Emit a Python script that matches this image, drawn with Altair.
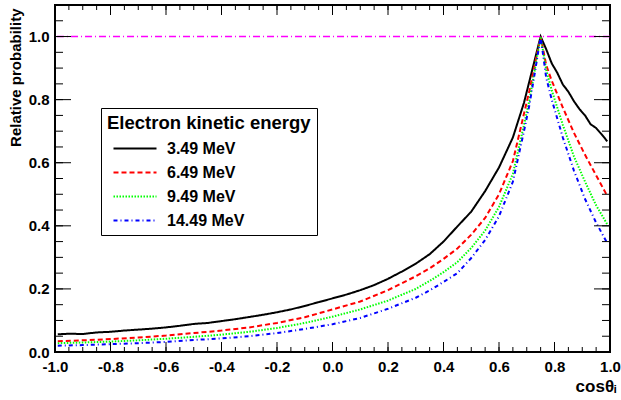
import altair as alt
import pandas as pd

# ---------------- data ----------------
series_names = ["3.49 MeV", "6.49 MeV", "9.49 MeV", "14.49 MeV"]
series_colors = ["#000000", "#ff0000", "#00ff00", "#0000ff"]
series_dash = [[1, 0], [5, 3], [1.5, 1.5], [4, 3, 1, 3]]

cos_black = [-0.99, -0.95, -0.9, -0.85, -0.8, -0.75, -0.7, -0.65, -0.6, -0.55,
             -0.5, -0.45, -0.4, -0.35, -0.3, -0.25, -0.2, -0.15, -0.1, -0.05,
             0.0, 0.05, 0.1, 0.15, 0.2, 0.25, 0.3, 0.35, 0.4, 0.45, 0.5, 0.55,
             0.6, 0.65, 0.69, 0.71, 0.73, 0.75, 0.77, 0.79, 0.81, 0.83, 0.85,
             0.87, 0.89, 0.91, 0.93, 0.95, 0.97, 0.99]
prob_black = [0.056, 0.058, 0.057, 0.062, 0.064, 0.068, 0.071, 0.074, 0.078, 0.083,
              0.089, 0.092, 0.098, 0.104, 0.111, 0.118, 0.126, 0.135, 0.146, 0.158,
              0.170, 0.182, 0.196, 0.212, 0.232, 0.255, 0.280, 0.310, 0.350, 0.398,
              0.445, 0.510, 0.585, 0.680, 0.790, 0.860, 0.930, 1.000, 0.960, 0.915,
              0.885, 0.848, 0.825, 0.795, 0.770, 0.750, 0.722, 0.710, 0.690, 0.668]

cos_other = [-0.99, -0.9, -0.8, -0.7, -0.6, -0.5, -0.4, -0.3, -0.2, -0.1, 0.0,
             0.1, 0.2, 0.3, 0.35, 0.4, 0.45, 0.5, 0.55, 0.6, 0.65, 0.69, 0.71,
             0.73, 0.75, 0.77, 0.79, 0.83, 0.87, 0.91, 0.95, 0.99]
prob_red = [0.034, 0.037, 0.041, 0.046, 0.052, 0.060, 0.068, 0.078, 0.092, 0.110,
            0.135, 0.160, 0.196, 0.240, 0.265, 0.295, 0.328, 0.372, 0.425, 0.500,
            0.605, 0.755, 0.830, 0.915, 1.000, 0.910, 0.860, 0.775, 0.695, 0.625,
            0.560, 0.495]
prob_green = [0.028, 0.030, 0.033, 0.037, 0.042, 0.048, 0.055, 0.064, 0.076, 0.092,
              0.112, 0.135, 0.163, 0.200, 0.225, 0.253, 0.285, 0.330, 0.385, 0.460,
              0.565, 0.720, 0.800, 0.900, 1.000, 0.895, 0.830, 0.720, 0.620, 0.540,
              0.465, 0.405]
prob_blue = [0.020, 0.022, 0.025, 0.028, 0.032, 0.038, 0.043, 0.050, 0.060, 0.073,
             0.088, 0.108, 0.137, 0.172, 0.195, 0.222, 0.250, 0.298, 0.355, 0.430,
             0.540, 0.700, 0.785, 0.890, 1.000, 0.870, 0.800, 0.680, 0.575, 0.485,
             0.410, 0.345]

reference_level = [1.0]

x_major = [-1.0, -0.8, -0.6, -0.4, -0.2, 0.0, 0.2, 0.4, 0.6, 0.8, 1.0]
y_major = [0.0, 0.2, 0.4, 0.6, 0.8, 1.0]
x_minor = [round(-1 + 0.05 * i, 2) for i in range(41)]
y_minor = [round(0.05 * i, 2) for i in range(23)]

# ---------------- table ----------------
rows = []
for c, p in zip(cos_black, prob_black):
    rows.append({"cos": c, "prob": p, "energy": series_names[0]})
for name, vals in zip(series_names[1:], [prob_red, prob_green, prob_blue]):
    for c, p in zip(cos_other, vals):
        rows.append({"cos": c, "prob": p, "energy": name})
df = pd.DataFrame(rows)
ref_df = pd.DataFrame({"ref": reference_level})

FONT = "Liberation Sans"
W, H = 555, 347
x_scale = alt.Scale(domain=[-1, 1], nice=False, zero=False)
y_scale = alt.Scale(domain=[0, 1.1], nice=False, zero=False)

legend = alt.Legend(
    title="Electron kinetic energy", orient="none", legendX=46, legendY=103,
    direction="vertical",
    titleFont=FONT, titleFontSize=18.5, titleFontWeight="bold", titleColor="black",
    titlePadding=8, titleLimit=0,
    labelFont=FONT, labelFontSize=16, labelFontWeight="bold", labelColor="black",
    labelOffset=24, labelLimit=0,
    symbolType="M-5,0H5", symbolSize=74, symbolStrokeWidth=2, symbolOffset=20,
    rowPadding=8, padding=6, strokeColor="black", fillColor="white",
)

lines = alt.Chart(df).mark_line(strokeWidth=2).encode(
    x=alt.X("cos:Q", scale=x_scale, axis=alt.Axis(
        values=x_major, tickSize=0, domain=False, labelFlush=False, grid=False,
        labelExpr="datum.value < 0 ? '-' + format(-datum.value, '.1f') : format(datum.value, '.1f')",
        labelFont=FONT, labelFontSize=15, labelFontWeight="bold", labelColor="black",
        labelPadding=7, title="cosθᵢ", titleFont=FONT, titleFontSize=17,
        titleFontWeight="bold", titleColor="black", titleX=561, titleY=34,
        titleAlign="right", titleBaseline="middle")),
    y=alt.Y("prob:Q", scale=y_scale, axis=alt.Axis(
        values=y_major, tickSize=0, domain=False, labelFlush=False, format=".1f",
        grid=False,
        labelFont=FONT, labelFontSize=15, labelFontWeight="bold", labelColor="black",
        labelPadding=6, title="Relative probability", titleFont=FONT,
        titleFontSize=15, titleFontWeight="bold", titleColor="black",
        titleX=-40, titleY=3, titleAngle=-90, titleAlign="right",
        titleBaseline="middle")),
    color=alt.Color("energy:N", scale=alt.Scale(domain=series_names, range=series_colors),
                    legend=legend),
    strokeDash=alt.StrokeDash("energy:N", scale=alt.Scale(domain=series_names, range=series_dash),
                              legend=legend),
)

ref_line = alt.Chart(ref_df).mark_rule(color="#ff00ff", strokeWidth=1.5,
                                       strokeDash=[7, 3, 1, 3]).encode(
    y=alt.Y("ref:Q", scale=y_scale)
)


# axis tick marks drawn inside the frame (ROOT style), positioned by the scales
def x_ticks(vals, edge, length):
    end = edge - length if edge > 0 else edge + length
    return alt.Chart(pd.DataFrame({"t": vals})).mark_rule(
        color="black", strokeWidth=1).encode(
        x=alt.X("t:Q", scale=x_scale),
        y=alt.value(edge), y2=alt.value(end))


def y_ticks(vals, edge, length):
    end = edge - length if edge > 0 else edge + length
    return alt.Chart(pd.DataFrame({"t": vals})).mark_rule(
        color="black", strokeWidth=1).encode(
        y=alt.Y("t:Q", scale=y_scale),
        x=alt.value(edge), x2=alt.value(end))


ticks = [
    x_ticks(x_major, H, 10), x_ticks(x_minor, H, 5),
    x_ticks(x_major, 0, 10), x_ticks(x_minor, 0, 5),
    y_ticks(y_major, 0, 16), y_ticks(y_minor, 0, 8),
    y_ticks(y_major, W, 16), y_ticks(y_minor, W, 8),
]

chart = alt.layer(lines, ref_line, *ticks).properties(
    width=W, height=H, autosize="none",
    padding={"left": 55, "top": 5, "right": 11, "bottom": 48},
).configure(font=FONT).configure_axis(grid=False).configure_view(
    stroke="black", strokeWidth=2
)

chart.save("out.html", embed_options={"renderer": "svg", "actions": False})
